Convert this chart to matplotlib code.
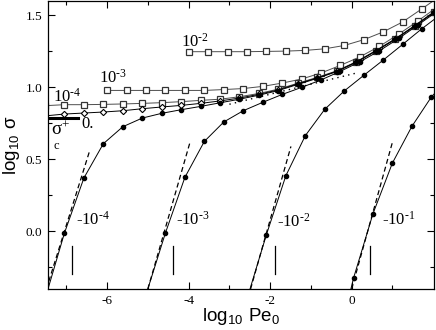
import matplotlib
matplotlib.use("Agg")
import matplotlib.pyplot as plt

plt.rcParams["axes.unicode_minus"] = False

# log10 Pe0 grids (Pe0 stepped by factors of 3)
x_from_m8 = [-7.523, -7.046, -6.569, -6.092, -5.614, -5.137, -4.660, -4.183, -3.706,
             -3.229, -2.752, -2.275, -1.798, -1.321, -0.843, -0.366, 0.111, 0.588,
             1.065, 1.542, 2.019]
x_from_m6 = [-6.0, -5.523, -5.046, -4.569, -4.092, -3.614, -3.137, -2.660, -2.183,
             -1.706, -1.229, -0.752, -0.275, 0.202, 0.679, 1.156, 1.633, 2.110]
x_from_m4 = [-4.0, -3.523, -3.046, -2.569, -2.092, -1.614, -1.137, -0.660, -0.183,
             0.294, 0.771, 1.248, 1.725, 2.202]
x_m1 = [-0.43, 0.046, 0.523, 1.0, 1.477, 1.954, 2.43]

# log10 sigma for each parameter value
y_p4 = [0.873, 0.880, 0.880, 0.882, 0.885, 0.889, 0.894, 0.901, 0.910, 0.918, 0.935,
        0.958, 0.988, 1.029, 1.070, 1.115, 1.178, 1.255, 1.337, 1.428, 1.525]
y_zero = [0.802, 0.815, 0.822, 0.829, 0.838, 0.852, 0.864, 0.875, 0.889, 0.906, 0.926,
          0.952, 0.983, 1.025, 1.066, 1.112, 1.176, 1.253, 1.335, 1.427, 1.523]
y_n4 = [-0.47, -0.011, 0.371, 0.609, 0.727, 0.787, 0.820, 0.845, 0.868, 0.893, 0.918,
        0.946, 0.978, 1.021, 1.063, 1.110, 1.174, 1.251, 1.333, 1.425, 1.521]
y_p3 = [0.979, 0.979, 0.979, 0.979, 0.979, 0.979, 0.985, 0.992, 1.007, 1.030, 1.058,
        1.100, 1.153, 1.212, 1.285, 1.370, 1.463, 1.560]
y_n3 = [-0.44, -0.011, 0.375, 0.625, 0.760, 0.838, 0.896, 0.951, 1.000, 1.052, 1.112,
        1.178, 1.254, 1.340, 1.435, 1.530]
y_p2 = [1.248, 1.248, 1.248, 1.248, 1.250, 1.252, 1.257, 1.268, 1.291, 1.331, 1.385,
        1.454, 1.546, 1.640]
y_n2 = [-0.47, -0.023, 0.387, 0.665, 0.848, 0.975, 1.083, 1.189, 1.298, 1.408, 1.510]
y_n1 = [-0.88, -0.324, 0.123, 0.475, 0.729, 0.933, 1.080]

# dashed small-Pe asymptotes for the negative curves: (x0, x1), (y0, y1)
dash_x = [(-7.49, -6.44), (-5.0, -3.96), (-2.48, -1.49), (0.0, 0.995)]
dash_y = [(-0.40, 0.549), (-0.40, 0.625), (-0.40, 0.590), (-0.40, 0.614)]
# short vertical markers
bar_x = [-6.87, -4.39, -1.88, 0.45]
bar_y = (-0.296, -0.099)
# dotted large-Pe line
dot_x = [-3.0, 0.12]
dot_y = [0.883, 1.10]
# sigma_c^+ level
sigc_x = [-7.6, -6.71]
sigc_y = [0.788, 0.788]

H = "\u2010"  # short hyphen, as in the original labels
neg_labels = ["-$\\mathregular{10^{%s4}}$" % H, "-$\\mathregular{10^{%s3}}$" % H,
              "-$\\mathregular{10^{%s2}}$" % H, "-$\\mathregular{10^{%s1}}$" % H]
neg_label_x = [-6.76, -4.32, -1.83, 0.75]
neg_label_y = [0.046, 0.046, 0.035, 0.046]
pos_labels = ["$\\mathregular{10^{%s2}}$" % H, "$\\mathregular{10^{%s3}}$" % H,
              "$\\mathregular{10^{%s4}}$" % H]
pos_label_x = [-4.18, -6.21, -7.32]
pos_label_y = [1.283, 1.032, 0.900]

xticks = [-6, -4, -2, 0]
xtick_labels = ["-6", "-4", "-2", "0"]
yticks = [0.0, 0.5, 1.0, 1.5]
ytick_labels = ["0.0", "0.5", "1.0", "1.5"]

serif = "Liberation Serif"
sans = "Liberation Sans"

fig = plt.figure(figsize=(4.36, 3.30), dpi=100)
ax = fig.add_axes([48 / 436, 41 / 330, 386 / 436, 288 / 330])

lw = 0.7
sq = dict(marker="s", ms=3.8, mfc="white", mec="0.2", mew=0.9, color="0.3", lw=lw)
ci = dict(marker="o", ms=3.0, mfc="black", mec="black", color="black", lw=lw)

ax.plot(x_from_m4, y_p2, **sq)
ax.plot(x_from_m6, y_p3, **sq)
ax.plot(x_from_m8, y_p4, **sq)
ax.plot(x_from_m8, y_zero, marker="D", ms=3.2, mfc="white", mec="black", mew=0.8,
        color="black", lw=lw)
ax.plot(x_from_m8, y_n4, **ci)
ax.plot(x_from_m6[2:], y_n3, **ci)
ax.plot(x_from_m4[3:], y_n2, **ci)
ax.plot(x_m1, y_n1, **ci)

for dx, dy in zip(dash_x, dash_y):
    ax.plot(dx, dy, color="black", lw=0.9, ls=(0, (4, 2.5)))
for bx in bar_x:
    ax.plot([bx, bx], bar_y, color="black", lw=0.9)
ax.plot(dot_x, dot_y, color="black", lw=1.0, ls=(0, (1, 3)))
ax.plot(sigc_x, sigc_y, color="black", lw=2.2)

tkw = dict(fontsize=12, family=serif, va="baseline", ha="left")
for lab, lx, ly in zip(pos_labels, pos_label_x, pos_label_y):
    ax.text(lx, ly, lab, **tkw)
ax.text(-6.63, 0.720, "0.", **tkw)
ax.text(-7.38, 0.668, "$\\mathregular{\\sigma^{+}}$", fontsize=13.5, family=serif,
        va="baseline", ha="left")
ax.text(-7.31, 0.572, "c", fontsize=9, family=serif, va="baseline", ha="left")
for lab, lx, ly in zip(neg_labels, neg_label_x, neg_label_y):
    ax.text(lx, ly, lab, **tkw)

ax.set_xlim(-7.45, 2.02)
ax.set_ylim(-0.4, 1.6)
ax.set_xticks(xticks)
ax.set_xticklabels(xtick_labels)
ax.set_xticks([-7, -5, -3, -1, 1], minor=True)
ax.set_yticks(yticks)
ax.set_yticklabels(ytick_labels)
ax.set_yticks([-0.25, 0.25, 0.75, 1.25], minor=True)
ax.tick_params(which="both", direction="in", top=True, right=True, width=0.8)
ax.tick_params(which="major", length=5, pad=4)
ax.tick_params(which="minor", length=3)
for lab in ax.get_xticklabels() + ax.get_yticklabels():
    lab.set_family(serif)
    lab.set_fontsize(9.5)
for sp in ax.spines.values():
    sp.set_linewidth(0.9)

ax.set_xlabel("$\\mathregular{log_{10}\\ Pe_0}$", family=sans, fontsize=13.5)
ax.set_ylabel("$\\mathregular{log_{10}\\ \\sigma}$", family=sans, fontsize=13.5)
ax.xaxis.set_label_coords(0.5, -0.058)
ax.yaxis.set_label_coords(-0.067, 0.5)

fig.savefig("out.png", dpi=100)
